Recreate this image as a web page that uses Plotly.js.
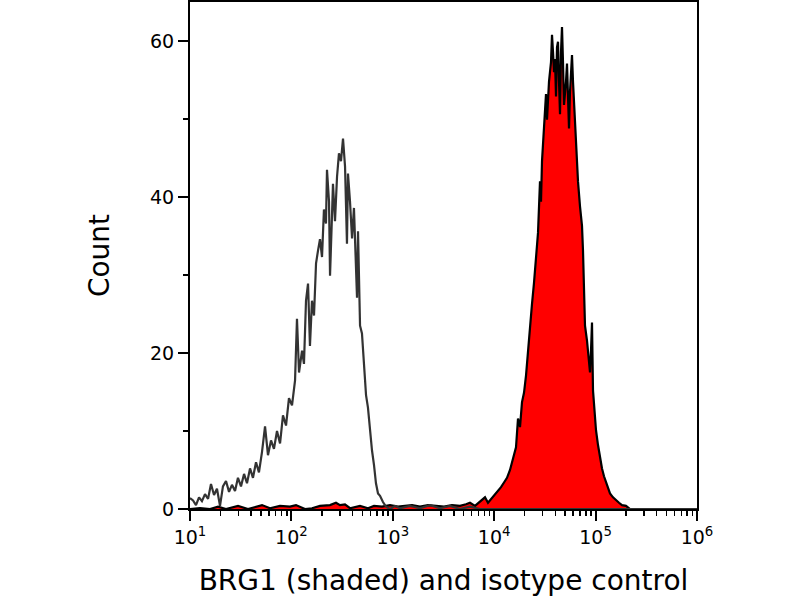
<!DOCTYPE html>
<html>
<head>
<meta charset="utf-8">
<script src="https://cdn.plot.ly/plotly-3.0.1.min.js"></script>
<style>
    html, body { margin: 0; padding: 0; background: #fff; }
    #chart { width: 800px; height: 600px; }
</style>
</head>
<body>
<div id="chart"></div>
<script>
// isotype control histogram (log10 of intensity, count)
let isoExp = [1.000, 1.030, 1.059, 1.089, 1.118, 1.148, 1.178, 1.207, 1.237, 1.266,
    1.296, 1.325, 1.355, 1.385, 1.414, 1.444, 1.473, 1.503, 1.533, 1.562,
    1.592, 1.621, 1.651, 1.680, 1.710, 1.740, 1.769, 1.799, 1.828, 1.858,
    1.888, 1.917, 1.947, 1.976, 2.006, 2.036, 2.055, 2.075, 2.105, 2.124,
    2.144, 2.164, 2.183, 2.203, 2.223, 2.243, 2.262, 2.282, 2.302, 2.321,
    2.341, 2.351, 2.371, 2.381, 2.400, 2.410, 2.430, 2.450, 2.469, 2.489,
    2.509, 2.529, 2.548, 2.558, 2.578, 2.598, 2.617, 2.637, 2.647, 2.657,
    2.677, 2.696, 2.716, 2.736, 2.755, 2.775, 2.795, 2.815, 2.834, 2.854,
    2.874, 2.903, 2.933, 2.972, 3.022, 3.071, 3.170, 3.268, 3.367, 3.465,
    3.564, 3.663, 3.761, 3.860, 4.057, 5.000, 6.000];
let isoCount = [1.4, 1.1, 0.5, 1.5, 1.0, 1.9, 1.3, 3.2, 1.8, 2.6,
    0.4, 2.9, 3.6, 2.2, 3.1, 2.3, 4.0, 2.9, 4.5, 3.3,
    5.2, 4.0, 6.0, 4.7, 7.3, 10.6, 6.9, 8.8, 7.7, 10.0,
    8.4, 12.0, 10.7, 14.2, 13.3, 16.5, 24.4, 17.5, 20.3, 18.6,
    26.7, 28.9, 20.9, 26.7, 24.8, 31.5, 33.1, 34.6, 32.3, 38.4,
    36.6, 43.5, 39.4, 29.9, 37.5, 41.7, 36.9, 42.6, 45.6, 44.6,
    47.5, 43.9, 34.0, 43.0, 39.4, 34.7, 38.6, 31.8, 27.1, 35.6,
    23.5, 22.5, 18.4, 14.6, 13.0, 10.1, 7.5, 5.6, 3.3, 2.0,
    1.7, 0.9, 0.3, 0.0, 0.4, 0.1, 0.4, 0.1, 0.5, 0.1,
    0.4, 0.0, 0.3, 0.0, 0.0, 0.0, 0.0];

// BRG1 stained histogram
let brgPx = [190, 200, 210, 218, 226, 238, 248, 262, 270, 280,
    290, 296, 305, 312, 320, 330, 336, 340, 345, 350,
    360, 368, 374, 382, 390, 398, 405, 412, 420, 428,
    436, 444, 452, 460, 466, 470, 475, 480, 485, 488,
    492, 495, 498, 501, 504, 507, 510, 512, 514, 516,
    518, 520, 522, 524, 526, 528, 530, 532, 534, 536,
    538, 540, 541, 542, 543, 545, 546, 547, 548, 549,
    551, 552, 553, 554, 555, 556, 557, 558, 559, 560,
    561, 562, 563, 564, 566, 567, 568, 569, 570, 572,
    573, 574, 575, 576, 578, 580, 582, 583, 584, 585,
    587, 589, 590, 591, 592, 593, 594, 596, 598, 600,
    602, 604, 606, 608, 610, 613, 616, 619, 622, 626,
    630, 697];
let brgCount = [0.0, 0.1, 0.0, 0.3, 0.0, 0.4, 0.0, 0.5, 0.1, 0.4,
    0.3, 0.5, 0.0, 0.1, 0.4, 0.5, 0.8, 0.5, 0.6, 0.1,
    0.4, 0.1, 0.4, 0.3, 0.5, 0.3, 0.4, 0.5, 0.3, 0.5,
    0.4, 0.3, 0.5, 0.4, 0.6, 0.8, 0.4, 1.0, 1.5, 0.8,
    1.4, 1.9, 2.4, 2.8, 3.4, 4.0, 5.0, 6.0, 6.9, 7.9,
    11.6, 10.5, 13.7, 14.9, 17.1, 20.6, 23.9, 26.3, 29.0, 32.8,
    35.4, 42.0, 39.4, 44.6, 47.1, 51.8, 53.2, 49.9, 53.5, 54.8,
    57.3, 60.8, 58.6, 56.0, 57.7, 52.9, 59.2, 59.9, 54.8, 50.6,
    58.6, 61.8, 57.3, 51.8, 54.8, 57.1, 52.9, 48.8, 53.5, 58.2,
    54.8, 52.2, 48.8, 47.1, 42.0, 38.8, 36.3, 33.1, 28.6, 23.5,
    21.6, 19.0, 17.5, 20.3, 23.9, 15.2, 13.3, 10.1, 8.2, 6.5,
    5.2, 4.2, 3.4, 2.7, 2.0, 1.5, 1.1, 0.8, 0.5, 0.4,
    0.0, 0.0];

let xTickVals = [1e1, 1e2, 1e3, 1e4, 1e5, 1e6];
let xTickText = ['10<sup>1</sup>', '10<sup>2</sup>', '10<sup>3</sup>', '10<sup>4</sup>', '10<sup>5</sup>', '10<sup>6</sup>'];
let yTickVals = [0, 20, 40, 60];
let yMinorVals = [10, 30, 50];

// brg values were read in pixel columns, 101.4 px per decade from 10^1 at x=190
let brgExp = brgPx.map(function (p) { return 1 + (p - 190) / 101.4; });

let xMinorVals = [];
for (let d = 1; d < 6; d++) {
    for (let m = 2; m <= 9; m++) {
        xMinorVals.push(m * Math.pow(10, d));
    }
}

let data = [
    {
        x: brgExp.map(function (e) { return Math.pow(10, e); }),
        y: brgCount,
        type: 'scatter',
        mode: 'lines',
        fill: 'tozeroy',
        fillcolor: '#ff0000',
        line: { color: '#000000', width: 2.2 },
        hoverinfo: 'skip'
    },
    {
        x: isoExp.map(function (e) { return Math.pow(10, e); }),
        y: isoCount,
        type: 'scatter',
        mode: 'lines',
        line: { color: '#333333', width: 2.2 },
        hoverinfo: 'skip'
    }
];

let layout = {
    width: 800,
    height: 600,
    showlegend: false,
    paper_bgcolor: '#ffffff',
    plot_bgcolor: '#ffffff',
    margin: { l: 190, r: 103, t: 2, b: 91 },
    font: { family: 'DejaVu Sans', color: '#000000', size: 18 },
    xaxis: {
        type: 'log',
        range: [1, 6],
        showgrid: false,
        zeroline: false,
        showline: true,
        linecolor: '#000000',
        linewidth: 2,
        mirror: true,
        ticks: 'outside',
        ticklen: 10,
        tickwidth: 2,
        tickcolor: '#000000',
        tickvals: xTickVals,
        ticktext: xTickText,
        tickfont: { size: 19 },
        minor: {
            ticks: 'outside',
            ticklen: 5,
            tickwidth: 1.5,
            tickcolor: '#000000',
            tickvals: xMinorVals
        },
        title: {
            text: 'BRG1 (shaded) and isotype control',
            font: { size: 28 },
            standoff: 24
        }
    },
    yaxis: {
        range: [0, 65],
        showgrid: false,
        zeroline: false,
        showline: true,
        linecolor: '#000000',
        linewidth: 2,
        mirror: true,
        ticks: 'outside',
        ticklen: 10,
        tickwidth: 2,
        tickcolor: '#000000',
        tickvals: yTickVals,
        tickfont: { size: 19 },
        minor: {
            ticks: 'outside',
            ticklen: 5,
            tickwidth: 2,
            tickcolor: '#000000',
            tickvals: yMinorVals
        },
        title: {
            text: 'Count',
            font: { size: 28 },
            standoff: 32
        }
    }
};

Plotly.newPlot('chart', data, layout, { displayModeBar: false, staticPlot: true });
</script>
</body>
</html>
